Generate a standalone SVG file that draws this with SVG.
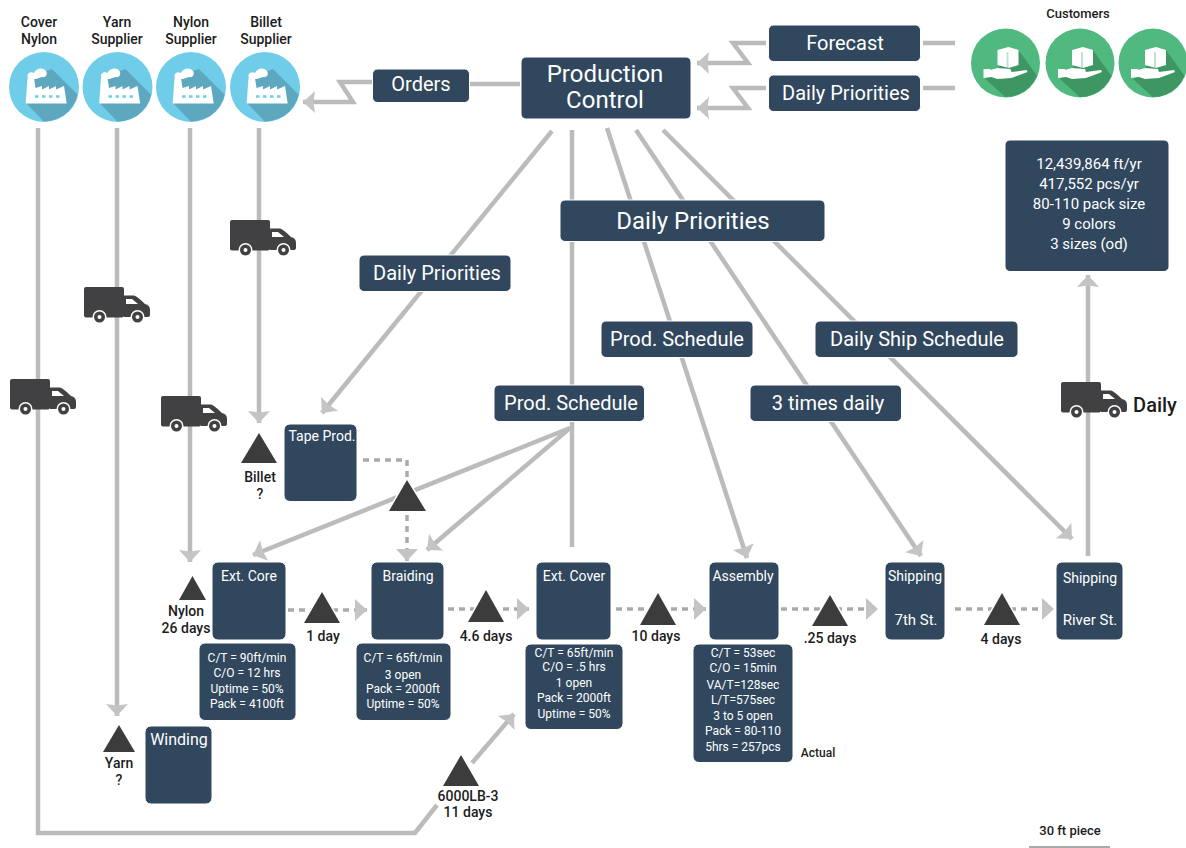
<svg xmlns="http://www.w3.org/2000/svg" xmlns:xlink="http://www.w3.org/1999/xlink" width="1186" height="848" viewBox="0 0 1186 848">
<style>
text{font-family:Roboto,"Liberation Sans",sans-serif;text-anchor:middle}
.box{fill:#30475e;stroke:#fff;stroke-width:1}
.w{fill:#fff}
.k{fill:#1c1c1c;font-weight:500}
.l{fill:none;stroke:#bbb;stroke-width:4.5}
.la{fill:none;stroke:#bbb;stroke-width:4.5;marker-end:url(#ah)}
.d{fill:none;stroke:#aaa;stroke-width:3.5;stroke-dasharray:6 5}
.da{fill:none;stroke:#aaa;stroke-width:3.5;stroke-dasharray:6 5;marker-end:url(#ah2)}
.t{fill:#3c3c3c;stroke:#fff;stroke-width:3;paint-order:stroke}
.s12{font-size:12px}.s13{font-size:13px}.s14{font-size:14px}.s15{font-size:15px}.s16{font-size:16px}.s20{font-size:20px}.s24{font-size:24px}
</style>
<defs>
<marker id="ah" markerUnits="userSpaceOnUse" markerWidth="14" markerHeight="24" refX="12" refY="12" orient="auto" viewBox="0 0 14 24"><path d="M0,1 L12,12 L0,23 L1.5,12Z" fill="#c4c4c4"/></marker>
<marker id="ah2" markerUnits="userSpaceOnUse" markerWidth="14" markerHeight="24" refX="12" refY="12" orient="auto" viewBox="0 0 14 24"><path d="M0,1 L12,12 L0,23 Z" fill="#c4c4c4"/></marker>
<clipPath id="cf"><circle r="34.5"/></clipPath>
<g id="factory">
<circle r="35" fill="#70cdea"/>
<path clip-path="url(#cf)" d="M-18,16 L2,37 L40,37 L40,14 L8,-18 L-14,-10Z" fill="#5ea8bf"/>
<path fill="#fff" d="M-18.3,16.5 L-16.5,-9 L-10,-9 L-8.5,1 L-2,-1 L-2,2.5 L5,-1 L5,2.5 L12,-1 L12,2.5 L20,-1 L22.7,16.5Z"/>
<path fill="#fff" d="M-16,-9 C-18,-13 -14,-16 -10,-14 C-8,-19 -1,-20 2,-16 C4,-13 2,-9 -2,-10 L-8,-8 L-16,-8Z"/>
<path stroke="#70cdea" stroke-width="2.5" stroke-dasharray="3.5 3.5" d="M-9,9.5 H19"/>
</g>
<clipPath id="cc"><circle r="34"/></clipPath>
<g id="customer">
<circle r="34.5" fill="#4fb97f"/>
<path clip-path="url(#cc)" d="M-20,16 L4,38 L38,38 L38,22 L13,-13 L-8,5Z" fill="#3e9763"/>
<path fill="#fff" d="M-8,-13 L3,-16 L13,-13 L13,2 L3,5 L-8,2Z"/>
<path fill="#30a060" opacity=".3" d="M3,-11 L3,5 L1,5 L1,-11Z"/>
<path fill="#fff" d="M-22,6 L-15,6 L-15,7 L-8,5 L5,6 L6,9 L21,7 L22,9 L6,15 L-8,16 L-14,14 L-22,15Z"/>
</g>
<g id="truck">
<rect x="0" y="0" width="40" height="30.500" rx="2" fill="#414042"/>
<path d="M40,8.500 H50 Q53,9 61,17 Q66,18 66,23 V28 Q66,30 64,30 H40Z" fill="#414042"/>
<path d="M42,12 H48 L54,17 H42Z" fill="#fff"/>
<circle cx="15.500" cy="30" r="7" fill="#fff"/><circle cx="15.500" cy="30" r="5.500" fill="#414042"/><circle cx="15.500" cy="30" r="2" fill="#fff"/>
<circle cx="53.500" cy="30" r="7" fill="#fff"/><circle cx="53.500" cy="30" r="5.500" fill="#414042"/><circle cx="53.500" cy="30" r="2" fill="#fff"/>
</g>
</defs>
<rect width="1186" height="848" fill="#fff"/>

<g id="connectors">
<path class="l" d="M38,128 V833 H415 L437,805"/>
<path class="la" d="M472,763 L514,714"/>
<path class="la" d="M117,128 V716"/>
<path class="la" d="M190,128 V562"/>
<path class="la" d="M259,128 V423"/>
<path class="la" d="M552,131 L322,413"/>
<path class="l" d="M572,130 V547"/>
<path class="la" d="M607,128 L747,558"/>
<path class="la" d="M636,130 L921,556"/>
<path class="la" d="M663,130 L1072,539"/>
<path class="la" d="M570,428 L253,555"/>
<path class="la" d="M570,428 L427,550"/>
<path class="l" d="M520,84 H470"/>
<path class="la" d="M372,82 H340 L353,102 H303"/>
<path class="la" d="M766,43 H733 L748,63 H697"/>
<path class="la" d="M766,88 H733 L748,108 H697"/>
<path class="l" d="M923,43 H955"/>
<path class="l" d="M923,88 H955"/>
<path class="la" d="M1088,556 V275"/>
<path class="d" d="M363,460 H407 V478"/>
<path class="da" d="M407,515 V561"/>
<path class="da" d="M288,610 H367"/>
<path class="da" d="M448,609 H529"/>
<path class="da" d="M616,609 H706"/>
<path class="da" d="M781,609 H878"/>
<path class="da" d="M955,609 H1054"/>
</g>

<g id="trucks">
<use href="#truck" x="230" y="220"/>
<use href="#truck" x="84" y="287"/>
<use href="#truck" x="161" y="396"/>
<use href="#truck" x="10" y="379"/>
<use href="#truck" x="1061" y="382"/>
</g>

<g id="cover-nylon"><use href="#factory" x="44" y="87"/><text class="k s14" x="39" y="27">Cover</text><text class="k s14" x="39" y="44">Nylon</text></g>
<g id="yarn-supplier"><use href="#factory" x="117.500" y="87"/><text class="k s14" x="117" y="27">Yarn</text><text class="k s14" x="117" y="44">Supplier</text></g>
<g id="nylon-supplier"><use href="#factory" x="191" y="87"/><text class="k s14" x="191" y="27">Nylon</text><text class="k s14" x="191" y="44">Supplier</text></g>
<g id="billet-supplier"><use href="#factory" x="265" y="87"/><text class="k s14" x="266" y="27">Billet</text><text class="k s14" x="266" y="44">Supplier</text></g>

<g id="customers"><text class="k s13" x="1078" y="18">Customers</text>
<use href="#customer" x="1005.500" y="63"/><use href="#customer" x="1080" y="63"/><use href="#customer" x="1153" y="63"/></g>

<g id="production-control"><rect class="box" x="521" y="57" width="170" height="62" rx="5"/><text class="w s24" x="605" y="82">Production</text><text class="w s24" x="605" y="108">Control</text></g>
<g id="forecast"><rect class="box" x="768.500" y="25" width="152" height="36.500" rx="5"/><text class="w s20" x="845" y="50">Forecast</text></g>
<g id="daily-priorities-top"><rect class="box" x="768.500" y="75" width="152" height="36.500" rx="5"/><text class="w s20" x="846" y="100">Daily Priorities</text></g>
<g id="orders"><rect class="box" x="372.500" y="69" width="97" height="33.500" rx="5"/><text class="w s20" x="421" y="91">Orders</text></g>
<g id="daily-priorities-big"><rect class="box" x="560" y="200" width="265" height="41.500" rx="5"/><text class="w s24" x="693" y="229">Daily Priorities</text></g>
<g id="daily-priorities-left"><rect class="box" x="359" y="255" width="152" height="36.500" rx="5"/><text class="w s20" x="437" y="280">Daily Priorities</text></g>
<g id="prod-schedule-right"><rect class="box" x="601" y="321" width="152" height="36.500" rx="5"/><text class="w s20" x="677" y="346">Prod. Schedule</text></g>
<g id="daily-ship-schedule"><rect class="box" x="815" y="321" width="203" height="36.500" rx="5"/><text class="w s20" x="917" y="346">Daily Ship Schedule</text></g>
<g id="three-times-daily"><rect class="box" x="750" y="385" width="151.500" height="36.500" rx="5"/><text class="w s20" x="828" y="410">3 times daily</text></g>
<g id="prod-schedule-left"><rect class="box" x="494" y="385" width="150.500" height="36.500" rx="5"/><text class="w s20" x="571" y="410">Prod. Schedule</text></g>
<g id="info"><rect class="box" x="1005" y="140" width="164" height="131.500" rx="5"/>
<text class="w s15" x="1089" y="169">12,439,864 ft/yr</text><text class="w s15" x="1089" y="189">417,552 pcs/yr</text><text class="w s15" x="1089" y="209">80-110 pack size</text><text class="w s15" x="1089" y="229">9 colors</text><text class="w s15" x="1089" y="249">3 sizes (od)</text></g>

<g id="tape-prod"><rect class="box" x="284" y="424" width="73" height="77.500" rx="6"/><text class="w s14" x="322" y="441">Tape Prod.</text></g>
<g id="winding"><rect class="box" x="145" y="726" width="67" height="78" rx="6"/><text class="w s16" x="179" y="745">Winding</text></g>

<g id="ext-core"><rect class="box" x="212" y="562" width="74" height="78" rx="6"/><text class="w s14" x="249" y="581">Ext. Core</text></g>
<g id="ext-core-data"><rect class="box" x="199" y="643" width="97" height="77.500" rx="6"/><text class="w s12" x="247" y="662">C/T = 90ft/min</text><text class="w s12" x="247" y="677">C/O = 12 hrs</text><text class="w s12" x="247" y="693">Uptime = 50%</text><text class="w s12" x="247" y="708">Pack = 4100ft</text></g>
<g id="braiding"><rect class="box" x="371" y="562" width="73" height="78" rx="6"/><text class="w s14" x="408" y="581">Braiding</text></g>
<g id="braiding-data"><rect class="box" x="356" y="643" width="95" height="77.500" rx="6"/><text class="w s12" x="403" y="662">C/T = 65ft/min</text><text class="w s12" x="403" y="679">3 open</text><text class="w s12" x="403" y="693">Pack = 2000ft</text><text class="w s12" x="403" y="708">Uptime = 50%</text></g>
<g id="ext-cover"><rect class="box" x="536" y="562" width="75" height="78" rx="6"/><text class="w s14" x="574" y="581">Ext. Cover</text></g>
<g id="ext-cover-data"><rect class="box" x="525" y="644" width="98" height="85.500" rx="6"/><text class="w s12" x="574" y="657">C/T = 65ft/min</text><text class="w s12" x="574" y="671">C/O = .5 hrs</text><text class="w s12" x="574" y="687">1 open</text><text class="w s12" x="574" y="702">Pack = 2000ft</text><text class="w s12" x="574" y="718">Uptime = 50%</text></g>
<g id="assembly"><rect class="box" x="709" y="562" width="70" height="78" rx="6"/><text class="w s14" x="743" y="581">Assembly</text></g>
<g id="assembly-data"><rect class="box" x="693" y="644" width="100" height="118.500" rx="6"/><text class="w s12" x="743" y="657">C/T = 53sec</text><text class="w s12" x="743" y="672">C/O = 15min</text><text class="w s12" x="743" y="689">VA/T=128sec</text><text class="w s12" x="743" y="704">L/T=575sec</text><text class="w s12" x="743" y="720">3 to 5 open</text><text class="w s12" x="743" y="735">Pack = 80-110</text><text class="w s12" x="743" y="751">5hrs = 257pcs</text></g>
<g id="shipping-7th"><rect class="box" x="885" y="562" width="60" height="78" rx="6"/><text class="w s14" x="915" y="581">Shipping</text><text class="w s15" x="916" y="625">7th St.</text></g>
<g id="shipping-river"><rect class="box" x="1056" y="562" width="67" height="78" rx="6"/><text class="w s14" x="1090" y="583">Shipping</text><text class="w s15" x="1090" y="625">River St.</text></g>

<g id="inventory">
<path class="t" d="M259,433 L277,463 H241Z"/><text class="k s14" x="260" y="482">Billet</text><text class="k s14" x="260" y="499">?</text>
<path class="t" d="M407,480 L426,511 H389Z"/>
<path class="t" d="M192.500,576 L206,600 H179Z"/><text class="k s14" x="186" y="616">Nylon</text><text class="k s14" x="186" y="633">26 days</text>
<path class="t" d="M322,592 L340,623 H304Z"/><text class="k s14" x="323" y="641">1 day</text>
<path class="t" d="M486,590 L504,622 H468Z"/><text class="k s14" x="486" y="641">4.6 days</text>
<path class="t" d="M658,593 L676,625 H640Z"/><text class="k s14" x="656" y="641">10 days</text>
<path class="t" d="M830,595 L848,626 H812Z"/><text class="k s14" x="830" y="643">.25 days</text>
<path class="t" d="M1002,593 L1020,625 H984Z"/><text class="k s14" x="1001" y="644">4 days</text>
<path class="t" d="M119,725 L135,752 H103Z"/><text class="k s14" x="119" y="768">Yarn</text><text class="k s14" x="119" y="785">?</text>
<path class="t" d="M461,755 L479,786 H443Z"/><text class="k s14" x="468" y="801">6000LB-3</text><text class="k s14" x="468" y="817">11 days</text>
</g>
<g id="annotations">
<text class="k s20" x="1155" y="412">Daily</text>
<text class="k s12" x="818" y="757">Actual</text>
<text class="k s13" x="1070" y="835">30 ft piece</text>
<path d="M1029,847 H1110" stroke="#555" stroke-width="1"/>
</g>
</svg>
